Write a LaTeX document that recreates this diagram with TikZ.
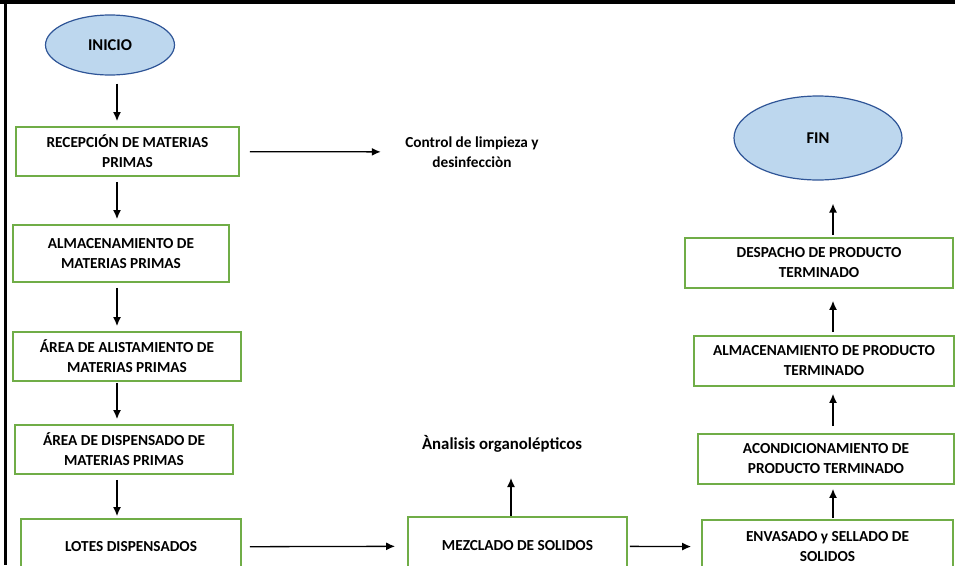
\documentclass[tikz,border=0pt]{standalone}
\usepackage{fontspec}
\setmainfont{Carlito}
\usetikzlibrary{shapes.geometric}
\usetikzlibrary{arrows.meta}
\definecolor{verde}{RGB}{112,173,71}
\definecolor{celeste}{RGB}{189,215,238}
\definecolor{azul}{RGB}{47,85,151}

\begin{document}
\begin{tikzpicture}[x=1pt, y=-1pt,
every node/.style = {font=\fontsize{15.3}{20}\selectfont\bfseries, align=center},
  caja/.style = {draw=verde, line width=1.8pt, rectangle, inner sep=0pt},
  elipse/.style = {draw=azul, fill=celeste, ellipse, line width=1.2pt, inner sep=0pt,
    font=\fontsize{16.5}{20}\selectfont\bfseries},
  flecha/.style = {-{Latex[length=9pt,width=8pt]}, line width=1.3pt, shorten <=5pt, shorten >=5pt}
]
\useasboundingbox (0,0) rectangle (955,565);
\clip (0,0) rectangle (955,565);
% marco
\fill (0,0) rectangle (955,4);
\fill (4,0) rectangle (7,565);

\coordinate (colA) at (117,0);
\coordinate (colB) at (833,0);
\coordinate (colC) at (511,0);

% columna izquierda
\node[elipse, minimum width=129, minimum height=60] (inicio) at (110,45) {INICIO};
\node[caja, minimum width=223, minimum height=49] (recepcion) at (127.5,151.5) {RECEPCIÓN DE MATERIAS\\PRIMAS};
\node[caja, minimum width=216, minimum height=57] (almacenMP) at (121,253.5) {ALMACENAMIENTO DE\\MATERIAS PRIMAS};
\node[caja, minimum width=228, minimum height=49] (alistamiento) at (127,356.5) {ÁREA DE ALISTAMIENTO DE\\MATERIAS PRIMAS};
\node[caja, minimum width=218, minimum height=49] (dispensado) at (124,449.5) {ÁREA DE DISPENSADO DE\\MATERIAS PRIMAS};
\node[caja, minimum width=220, minimum height=56] (lotes) at (131,547) {LOTES DISPENSADOS};

% centro
\node (control) at (472,152) {Control de limpieza y\\desinfecciòn};
\node[caja, minimum width=219, minimum height=58] (mezclado) at (517.5,546) {MEZCLADO DE SOLIDOS};
\node[font=\fontsize{16.8}{20}\selectfont\bfseries] (analisis) at (502,444) {Ànalisis organolépticos};

% columna derecha
\node[caja, minimum width=251, minimum height=54] (envasado) at (827.5,547) {ENVASADO y SELLADO DE\\SOLIDOS};
\node[caja, minimum width=256, minimum height=50] (acondicion) at (826,459) {ACONDICIONAMIENTO DE\\PRODUCTO TERMINADO};
\node[caja, minimum width=260, minimum height=50] (almacenPT) at (824,361) {ALMACENAMIENTO DE PRODUCTO\\TERMINADO};
\node[caja, minimum width=268, minimum height=50] (despacho) at (819,263) {DESPACHO DE PRODUCTO\\TERMINADO};
\node[elipse, minimum width=168, minimum height=84] (fin) at (818,138) {FIN};

% flechas
\draw[flecha, shorten <=8pt] (inicio.south -| colA) -- (recepcion.north -| colA);
\draw[flecha] (recepcion.south -| colA) -- (almacenMP.north -| colA);
\draw[flecha] (almacenMP.south -| colA) -- (alistamiento.north -| colA);
\draw[flecha, shorten <=1pt] (alistamiento.south -| colA) -- (dispensado.north -| colA);
\draw[flecha, shorten >=2pt] (dispensado.south -| colA) -- (lotes.north -| colA);
\draw[flecha, shorten <=10pt, shorten >=21pt] (recepcion) -- (control);
\draw[flecha, shorten <=8pt, shorten >=12pt] (lotes) -- (mezclado);
\draw[flecha, shorten <=2pt, shorten >=10pt] (mezclado) -- (envasado);
\draw[flecha, shorten <=0pt, shorten >=22pt] (mezclado.north -| colC) -- (analisis.south -| colC);
\draw[flecha, shorten <=1pt, shorten >=4pt] (envasado.north -| colB) -- (acondicion.south -| colB);
\draw[flecha, shorten <=7pt, shorten >=7pt] (acondicion.north -| colB) -- (almacenPT.south -| colB);
\draw[flecha, shorten <=3pt, shorten >=12pt] (almacenPT.north -| colB) -- (despacho.south -| colB);
\draw[flecha, shorten <=2pt, shorten >=23pt] (despacho.north -| colB) -- (fin.south -| colB);
\end{tikzpicture}
\end{document}
